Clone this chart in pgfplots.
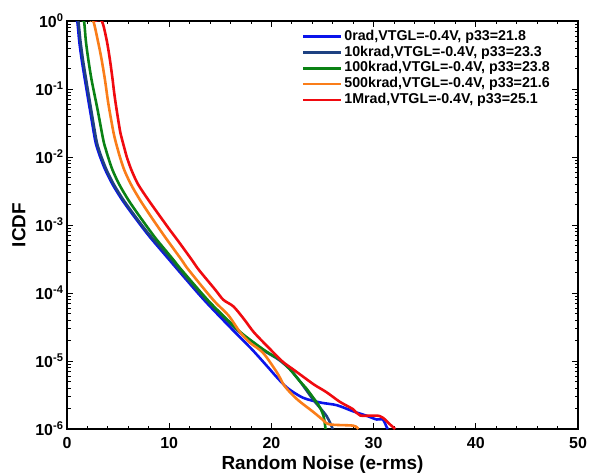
\documentclass[border=0pt]{standalone}
\usepackage{fontspec}
\setmainfont{Liberation Sans}
\usepackage{pgfplots}
\pgfplotsset{compat=1.18}
\definecolor{cblue}{RGB}{10,20,235}
\definecolor{cdblue}{RGB}{30,65,130}
\definecolor{cgreen}{RGB}{10,130,20}
\definecolor{corange}{RGB}{250,125,25}
\definecolor{cred}{RGB}{240,10,15}
\begin{document}
\begin{tikzpicture}
\begin{axis}[
  scale only axis, width=511bp, height=408bp,
  xmin=0, xmax=50, ymode=log, ymin=1e-6, ymax=1,
  xtick={0,10,20,30,40,50}, xticklabels={0,10,20,30,40,50},
  minor x tick num=4,
  ytick={1e-6,1e-5,1e-4,1e-3,1e-2,1e-1,1},
  yticklabels={10\textsuperscript{-6},10\textsuperscript{-5},10\textsuperscript{-4},10\textsuperscript{-3},10\textsuperscript{-2},10\textsuperscript{-1},10\textsuperscript{0}},
  tick align=inside, major tick length=6bp, minor tick length=3.5bp,
  axis line style={line width=1.3pt},
  every tick/.style={black, line width=0.9pt},
  tick label style={font=\bfseries\fontsize{16}{16}\selectfont},
  xticklabel style={yshift=-5bp},
  xlabel={Random Noise (e-rms)}, ylabel={ICDF},
  label style={font=\bfseries\fontsize{19}{19}\selectfont},
  xlabel style={yshift=0bp},
  ylabel style={yshift=3bp},
  legend style={draw=none, fill=none, inner sep=0pt, at={(0.459,0.982)}, anchor=north west,
    font=\bfseries\fontsize{14.3}{14.3}\selectfont, row sep=0pt,
    nodes={inner xsep=2bp, inner ysep=1.3bp, text height=10.3bp, text depth=3bp}},
  legend cell align=left,
  legend image code/.code={\draw[#1] (0bp,0bp) -- (38bp,0bp);},
  every axis plot/.append style={line width=2.6pt, smooth, tension=0.5},
]
\addplot[cblue] coordinates {(0.8,1) (1.0,1) (1.2,0.501) (1.44,0.269) (1.76,0.135) (2.25,0.049) (2.75,0.0178) (3.0,0.0129) (3.25,0.01) (3.75,6.46e-3) (4.45,3.98e-3) (5.4,2.34e-3) (6.45,1.41e-3) (7.55,8.51e-4) (8.35,6.03e-4) (10.0,3.09e-4) (10.85,2.19e-4) (13.4,7.94e-5) (16.2,2.88e-5) (18.1,1.48e-5) (19.6,8.32e-6) (20.6,5.62e-6) (21.6,3.98e-6) (23.1,2.88e-6) (24.8,2.45e-6) (26.4,2.24e-6) (28.0,1.82e-6) (29.4,1.55e-6) (30.3,1.38e-6) (30.9,1.38e-6) (31.3,1.05e-6) (31.4,1e-6)};
\addlegendentry{0rad,VTGL=-0.4V, p33=21.8}
\addplot[cdblue] coordinates {(0.9,1) (1.1,1) (1.32,0.501) (1.56,0.269) (1.88,0.135) (2.37,0.049) (2.87,0.0178) (3.12,0.0129) (3.37,0.01) (3.87,6.46e-3) (4.57,3.98e-3) (5.52,2.34e-3) (6.57,1.41e-3) (7.67,8.51e-4) (8.5,6.03e-4) (10.2,3.09e-4) (11.0,2.19e-4) (13.6,7.94e-5) (16.6,2.88e-5) (18.2,1.86e-5) (19.4,1.38e-5) (20.7,1.05e-5) (21.8,7.59e-6) (22.8,5.01e-6) (24.1,2.69e-6) (25.4,1.55e-6) (26.0,1e-6)};
\addlegendentry{10krad,VTGL=-0.4V, p33=23.3}
\addplot[cgreen] coordinates {(1.4,1) (1.66,1) (1.85,0.501) (2.09,0.269) (2.41,0.135) (3.0,0.049) (3.55,0.0178) (3.8,0.0129) (4.02,0.01) (4.45,6.46e-3) (5.1,3.98e-3) (6.0,2.34e-3) (7.0,1.41e-3) (8.05,8.51e-4) (8.8,6.03e-4) (10.4,3.09e-4) (11.2,2.19e-4) (13.75,7.94e-5) (15.4,4.47e-5) (17.0,2.63e-5) (18.3,1.86e-5) (19.5,1.38e-5) (20.8,1.05e-5) (21.8,7.59e-6) (22.8,5.01e-6) (23.4,3.98e-6) (24.0,3.02e-6) (24.7,2.14e-6) (25.1,1.55e-6) (25.3,1e-6)};
\addlegendentry{100krad,VTGL=-0.4V, p33=23.8}
\addplot[corange] coordinates {(2.2,1) (2.57,1) (3.06,0.479) (3.39,0.269) (3.72,0.135) (4.04,0.0617) (4.5,0.0251) (4.72,0.0178) (4.97,0.0129) (5.18,0.01) (5.6,6.46e-3) (6.25,3.98e-3) (7.14,2.34e-3) (8.1,1.41e-3) (9.1,8.51e-4) (9.8,6.03e-4) (11.2,3.09e-4) (11.9,2.19e-4) (14.3,7.94e-5) (15.8,4.68e-5) (16.95,2.63e-5) (17.9,1.86e-5) (19.18,1.32e-5) (20.55,6.76e-6) (21.3,4.27e-6) (22.5,2.75e-6) (24.1,1.78e-6) (25.0,1.38e-6) (25.7,1.17e-6) (28.0,1.12e-6) (28.5,1e-6)};
\addlegendentry{500krad,VTGL=-0.4V, p33=21.6}
\addplot[cred] coordinates {(2.7,1) (3.4,1) (3.88,0.525) (4.2,0.269) (4.47,0.135) (4.57,0.1) (4.76,0.0617) (5.17,0.0251) (5.4,0.0178) (5.65,0.0129) (5.85,0.01) (6.3,6.46e-3) (6.95,3.98e-3) (7.96,2.34e-3) (9.0,1.41e-3) (10.05,8.51e-4) (10.8,6.03e-4) (12.2,3.09e-4) (12.9,2.19e-4) (14.5,1.12e-4) (15.3,7.94e-5) (16.3,6.31e-5) (17.4,3.98e-5) (18.3,2.63e-5) (19.9,1.48e-5) (21.1,9.77e-6) (22.1,7.59e-6) (23.1,5.89e-6) (24.2,4.47e-6) (25.4,3.47e-6) (26.7,2.51e-6) (28.0,1.95e-6) (28.7,1.58e-6) (30.6,1.55e-6) (31.6,1.17e-6) (32.1,1e-6)};
\addlegendentry{1Mrad,VTGL=-0.4V, p33=25.1}
\end{axis}
\pgfresetboundingbox
\path ([shift={(-67bp,-45bp)}]current axis.south west) rectangle ([shift={(12bp,21bp)}]current axis.north east);
\end{tikzpicture}
\end{document}
